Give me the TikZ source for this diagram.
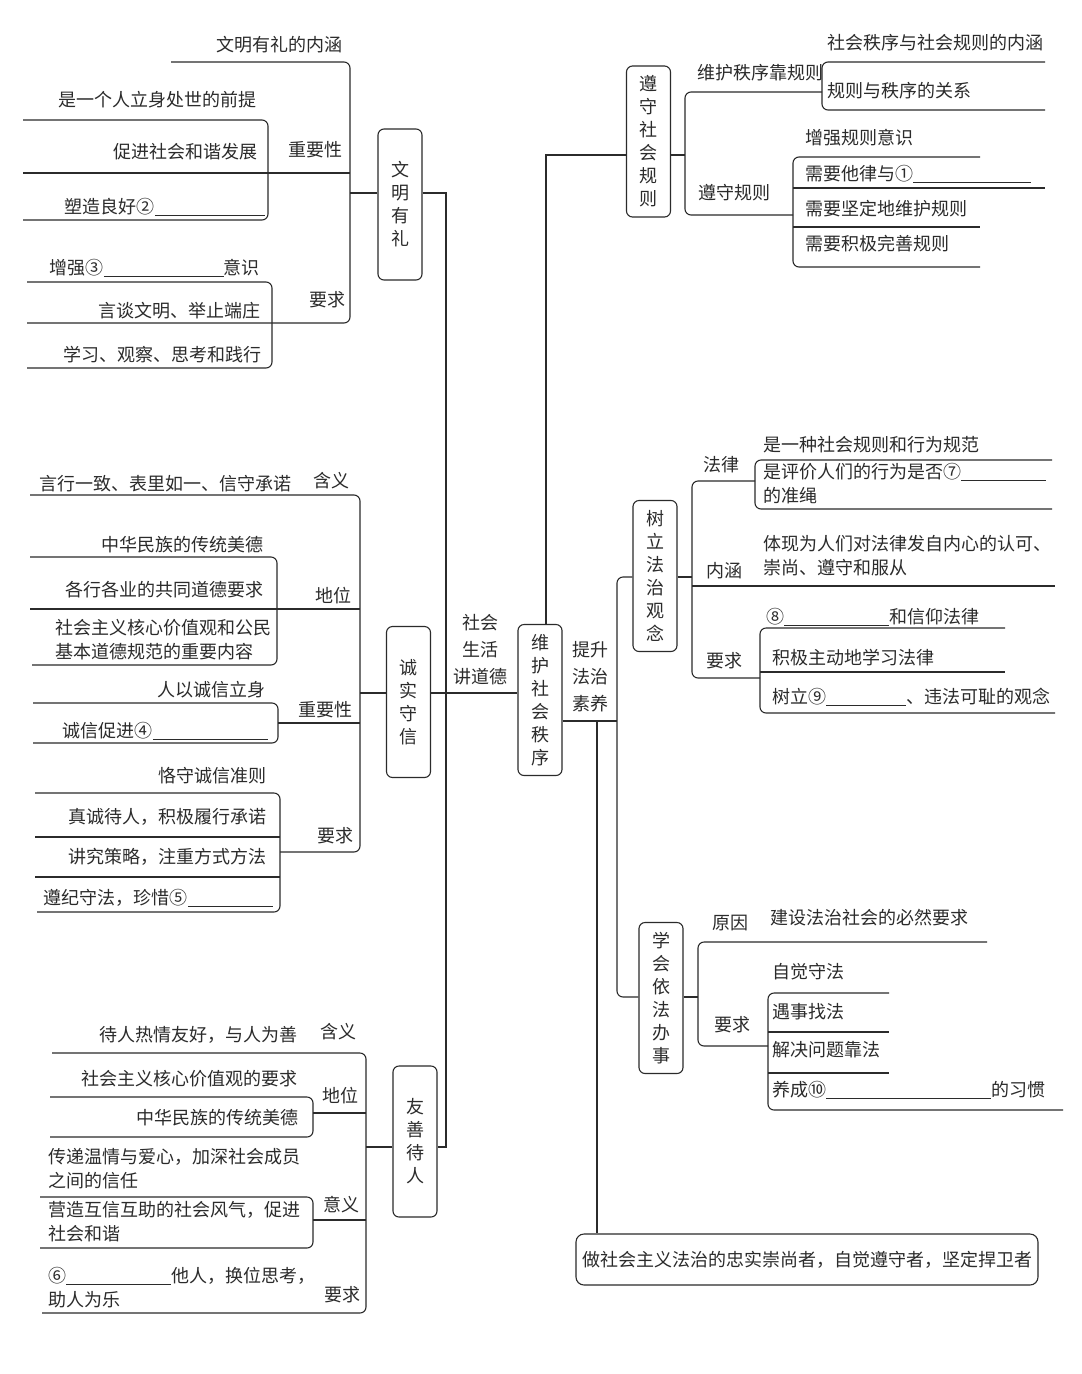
\documentclass[tikz,border=0pt]{standalone}
\usepackage{fontspec}
\setmainfont{Noto Sans CJK SC}
\newcommand{\tiankong}[1]{\rule[-2pt]{#1}{0.8pt}}
\definecolor{ink}{HTML}{2B2B2B}
\tikzset{
  txt/.style={inner sep=0pt,text=ink,font=\fontsize{18}{23}\selectfont},
  two/.style={txt,align=left,font=\fontsize{18}{24}\selectfont},
  vbox/.style={draw=ink,line width=1.1pt,rounded corners=6pt,minimum width=44pt,
    minimum height=151pt,align=center,inner sep=0pt,text=ink,font=\fontsize{18}{23}\selectfont},
  br/.style={draw=ink,line width=1.1pt,rounded corners=6pt}
}
\begin{document}
\begin{tikzpicture}[x=1pt,y=-1pt]
  \useasboundingbox (0,0) rectangle (1082,1374);
  \fill[white] (0,0) rectangle (1082,1374);

  % centre
  \node[vbox] (wh) at (540,700) {维\\护\\社\\会\\秩\\序};
  \node[txt,align=center,font=\fontsize{18}{27}\selectfont] (shd) at (480,650) {社会\\生活\\讲道德};
  \node[txt,align=center,font=\fontsize{18}{27}\selectfont] (tf) at (590,677) {提升\\法治\\素养};

  % left boxes
  \node[vbox] (wm) at (400,204.5) {文\\明\\有\\礼};
  \node[vbox] (cx) at (408.5,702) {诚\\实\\守\\信};
  \node[vbox] (ys) at (415,1141.5) {友\\善\\待\\人};
  \draw[br,rounded corners=0pt] (wm.east |- 0,193) -- (446,193) -- (446,1147) -- (ys.east |- 0,1147);
  \draw[br] (cx.east |- 0,693) -- (wh.west |- 0,693);

  % right boxes
  \node[vbox] (zs) at (648.5,141.5) {遵\\守\\社\\会\\规\\则};
  \node[vbox] (sl) at (655,576) {树\\立\\法\\治\\观\\念};
  \node[vbox] (xh) at (661,998) {学\\会\\依\\法\\办\\事};
  \node[br,txt,draw=ink,rounded corners=8pt,minimum width=462pt,minimum height=51pt] (fz) at (807,1259.5)
    {做社会主义法治的忠实崇尚者，自觉遵守者，坚定捍卫者};
  \draw[br,rounded corners=0pt] (wh.north -| 546,0) -- (546,155) -- (zs.west |- 0,155);
  \draw[br] (wh.east |- 0,721) -- (617,721);
  \draw[br] (sl.west |- 0,577) -| (617,997) -- (xh.west |- 0,997);
  \draw[br] (597,721) -- (fz.north -| 597,0);

  % 文明有礼
  \draw[br] (171,62) -- (350,62) -- (350,323) -- (27,323);
  \draw[br] (23,173) -- (350,173);
  \draw[br] (wm.west |- 0,193) -- (350,193);
  \draw[br] (23,120) -- (268,120) -- (268,220) -- (23,220);
  \draw[br] (27,282) -- (272,282) -- (272,368) -- (27,368);
  \node[txt,anchor=east] (wm1) at (343,45) {文明有礼的内涵};
  \node[txt,anchor=east] (wm2) at (343,150) {重要性};
  \node[txt,anchor=east] (wm3) at (257,100) {是一个人立身处世的前提};
  \node[txt,anchor=east] (wm4) at (258,152) {促进社会和谐发展};
  \node[txt,anchor=east] (wm5) at (265,207) {塑造良好②\tiankong{110pt}};
  \node[txt,anchor=east] (wm6) at (346,300) {要求};
  \node[txt,anchor=east] (wm7) at (260,268) {增强③\tiankong{120pt}意识};
  \node[txt,anchor=east] (wm8) at (261,311) {言谈文明、举止端庄};
  \node[txt,anchor=east] (wm9) at (262,355) {学习、观察、思考和践行};

  % 诚实守信
  \draw[br] (30,495) -- (360,495) -- (360,852) -- (280,852);
  \draw[br] (30,609) -- (360,609);
  \draw[br] (cx.west |- 0,693) -- (360,693);
  \draw[br] (278,723) -- (360,723);
  \draw[br] (30,557) -- (277,557) -- (277,665) -- (32,665);
  \draw[br] (33,703) -- (278,703) -- (278,743) -- (33,743);
  \draw[br] (35,793) -- (280,793) -- (280,912) -- (37,912);
  \draw[br] (35,837) -- (280,837);
  \draw[br] (35,877) -- (280,877);
  \node[txt,anchor=east] (cx1) at (292,484) {言行一致、表里如一、信守承诺};
  \node[txt,anchor=east] (cx2) at (350,481) {含义};
  \node[txt,anchor=east] (cx3) at (264,545) {中华民族的传统美德};
  \node[txt,anchor=east] (cx4) at (264,590) {各行各业的共同道德要求};
  \node[txt,anchor=east] (cx5) at (352,596) {地位};
  \node[two,anchor=west] (cx6) at (55,640) {社会主义核心价值观和公民\\基本道德规范的重要内容};
  \node[txt,anchor=east] (cx7) at (266,690) {人以诚信立身};
  \node[txt,anchor=east] (cx8) at (353,710) {重要性};
  \node[txt,anchor=east] (cx9) at (268,731) {诚信促进④\tiankong{115pt}};
  \node[txt,anchor=east] (cx10) at (267,776) {恪守诚信准则};
  \node[txt,anchor=east] (cx11) at (267,817) {真诚待人，积极履行承诺};
  \node[txt,anchor=east] (cx12) at (354,836) {要求};
  \node[txt,anchor=east] (cx13) at (267,857) {讲究策略，注重方式方法};
  \node[txt,anchor=east] (cx14) at (273,898) {遵纪守法，珍惜⑤\tiankong{85pt}};

  % 友善待人
  \draw[br] (52,1053) -- (366,1053) -- (366,1313) -- (42,1313);
  \draw[br] (313,1113) -- (366,1113);
  \draw[br] (ys.west |- 0,1147) -- (366,1147);
  \draw[br] (313,1220) -- (366,1220);
  \draw[br] (50,1097) -- (313,1097) -- (313,1137) -- (50,1137);
  \draw[br] (40,1197) -- (313,1197) -- (313,1248) -- (40,1248);
  \node[txt,anchor=east] (ys1) at (298,1035) {待人热情友好，与人为善};
  \node[txt,anchor=east] (ys2) at (357,1032) {含义};
  \node[txt,anchor=east] (ys3) at (298,1079) {社会主义核心价值观的要求};
  \node[txt,anchor=east] (ys4) at (359,1096) {地位};
  \node[txt,anchor=east] (ys5) at (299,1118) {中华民族的传统美德};
  \node[two,anchor=west] (ys6) at (48,1169) {传递温情与爱心，加深社会成员\\之间的信任};
  \node[txt,anchor=east] (ys7) at (360,1205) {意义};
  \node[two,anchor=west] (ys8) at (48,1222) {营造互信互助的社会风气，促进\\社会和谐};
  \node[two,anchor=west] (ys9) at (48,1288) {⑥\tiankong{105pt}他人，换位思考，\\助人为乐};
  \node[txt,anchor=east] (ys10) at (361,1295) {要求};

  % 遵守社会规则
  \draw[br] (zs.east |- 0,155) -- (685,155);
  \draw[br] (822,92) -- (685,92) -- (685,215) -- (793,215);
  \draw[br] (1045,62) -- (822,62) -- (822,110) -- (1045,110);
  \draw[br] (980,157) -- (793,157) -- (793,267) -- (980,267);
  \draw[br] (793,188) -- (1045,188);
  \draw[br] (793,227) -- (980,227);
  \node[txt,anchor=west] (zs1) at (697,73) {维护秩序靠规则};
  \node[txt,anchor=west] (zs2) at (827,43) {社会秩序与社会规则的内涵};
  \node[txt,anchor=west] (zs3) at (827,91) {规则与秩序的关系};
  \node[txt,anchor=west] (zs4) at (698,193) {遵守规则};
  \node[txt,anchor=west] (zs5) at (805,138) {增强规则意识};
  \node[txt,anchor=west] (zs6) at (805,174) {需要他律与①\tiankong{118pt}};
  \node[txt,anchor=west] (zs7) at (805,209) {需要坚定地维护规则};
  \node[txt,anchor=west] (zs8) at (805,244) {需要积极完善规则};

  % 树立法治观念
  \draw[br] (sl.east |- 0,577) -- (692,577);
  \draw[br] (755,481) -- (692,481) -- (692,678) -- (760,678);
  \draw[br] (692,586) -- (1055,586);
  \draw[br] (1052,460) -- (755,460) -- (755,509) -- (1052,509);
  \draw[br] (1005,628) -- (760,628) -- (760,713) -- (1055,713);
  \draw[br] (760,672) -- (1005,672);
  \node[txt,anchor=west] (sl1) at (703,465) {法律};
  \node[txt,anchor=west] (sl2) at (763,445) {是一种社会规则和行为规范};
  \node[two,anchor=west] (sl3) at (763,484) {是评价人们的行为是否⑦\tiankong{85pt}\\的准绳};
  \node[txt,anchor=west] (sl4) at (706,571) {内涵};
  \node[two,anchor=west] (sl5) at (763,556) {体现为人们对法律发自内心的认可、\\崇尚、遵守和服从};
  \node[txt,anchor=west] (sl6) at (706,661) {要求};
  \node[txt,anchor=west] (sl7) at (766,617) {⑧\tiankong{105pt}和信仰法律};
  \node[txt,anchor=west] (sl8) at (772,658) {积极主动地学习法律};
  \node[txt,anchor=west] (sl9) at (772,697) {树立⑨\tiankong{80pt}、违法可耻的观念};

  % 学会依法办事
  \draw[br] (xh.east |- 0,997) -- (698,997);
  \draw[br] (987,942) -- (698,942) -- (698,1046) -- (768,1046);
  \draw[br] (889,993) -- (768,993) -- (768,1110) -- (1063,1110);
  \draw[br] (768,1032) -- (889,1032);
  \draw[br] (768,1073) -- (889,1073);
  \node[txt,anchor=west] (xh1) at (712,923) {原因};
  \node[txt,anchor=west] (xh2) at (770,918) {建设法治社会的必然要求};
  \node[txt,anchor=west] (xh3) at (714,1025) {要求};
  \node[txt,anchor=west] (xh4) at (772,972) {自觉守法};
  \node[txt,anchor=west] (xh5) at (772,1012) {遇事找法};
  \node[txt,anchor=west] (xh6) at (772,1050) {解决问题靠法};
  \node[txt,anchor=west] (xh7) at (772,1090) {养成⑩\tiankong{165pt}的习惯};
\end{tikzpicture}
\end{document}
